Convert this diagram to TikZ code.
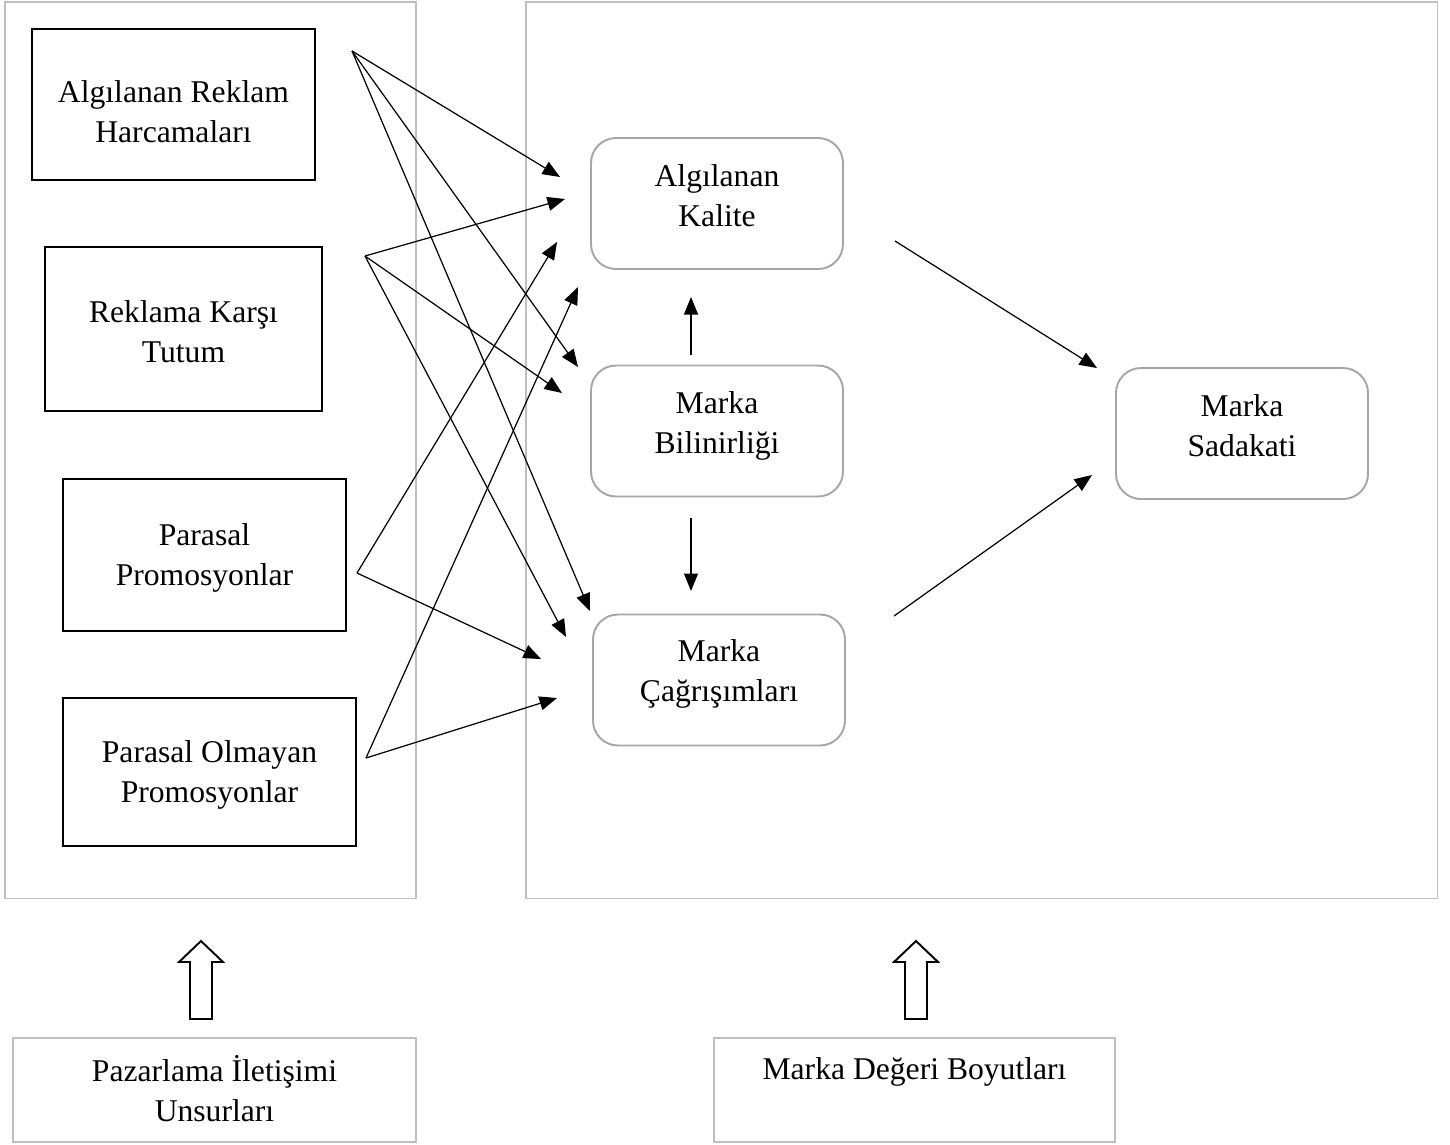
\documentclass[tikz,border=0pt]{standalone}
\usepackage{fontspec}
\setmainfont{Liberation Serif}
\usetikzlibrary{arrows.meta}
\definecolor{framegray}{RGB}{191,191,191}
\definecolor{boxgray}{RGB}{166,166,166}
\tikzset{
  framebox/.style={draw=framegray, line width=0.6pt, inner sep=0pt, outer sep=0pt},
  leftbox/.style={draw=black, line width=1.1pt, inner sep=0pt, outer sep=0pt},
  dimbox/.style={draw=boxgray, line width=1.1pt, rounded corners=0.5cm, inner sep=0pt, outer sep=0pt,
    minimum width=5.04cm, minimum height=2.62cm},
  txt/.style={align=center, inner sep=0pt, font=\fontsize{18}{22.8}\selectfont},
  arr/.style={-{Triangle[length=0.35cm, width=0.28cm]}, line width=0.7pt},
  hollow/.style={draw=black, line width=1.1pt, line join=miter}
}
\begin{document}
\begin{tikzpicture}[x=0.2mm, y=-0.2mm]
  \useasboundingbox (0,0) rectangle (1450,1144);
  % outer frames
  \node[framebox, minimum width=8.22cm, minimum height=17.92cm] (leftframe) at (210.5,450) {};
  \node[framebox, minimum width=18.22cm, minimum height=17.92cm] (rightframe) at (981.5,450) {};

  % communication elements
  \node[leftbox, minimum width=5.66cm, minimum height=3.02cm] (reklam) at (173.5,104.5) {};
  \node[txt] (reklam-t) at (173.5,112) {Algılanan Reklam\\Harcamaları};
  \node[leftbox, minimum width=5.54cm, minimum height=3.28cm] (tutum) at (183.5,329) {};
  \node[txt] (tutum-t) at (183.5,331.5) {Reklama Karşı\\Tutum};
  \node[leftbox, minimum width=5.66cm, minimum height=3.04cm] (parasal) at (204.5,555) {};
  \node[txt] (parasal-t) at (204.5,558) {Parasal\\Promosyonlar};
  \node[leftbox, minimum width=5.86cm, minimum height=2.96cm] (olmayan) at (209.5,772) {};
  \node[txt] (olmayan-t) at (209.5,775) {Parasal Olmayan\\Promosyonlar};

  % brand equity dimensions
  \node[dimbox] (kalite) at (717,203.5) {};
  \node[txt] (kalite-t) at (717,195.5) {Algılanan\\Kalite};
  \node[dimbox] (bilinirlik) at (717,431) {};
  \node[txt] (bilinirlik-t) at (717,426) {Marka\\Bilinirliği};
  \node[dimbox] (cagrisim) at (719,680) {};
  \node[txt] (cagrisim-t) at (719,674) {Marka\\Çağrışımları};
  \node[dimbox] (sadakat) at (1242,433.5) {};
  \node[txt] (sadakat-t) at (1242,426) {Marka\\Sadakati};

  % bottom captions
  \node[framebox, line width=1.1pt, minimum width=8.06cm, minimum height=2.08cm] (pazarlama) at (214.5,1090) {};
  \node[txt] (pazarlama-t) at (214.5,1089) {Pazarlama İletişimi\\Unsurları};
  \node[framebox, line width=1.1pt, minimum width=8.02cm, minimum height=2.08cm] (deger) at (914.5,1090) {};
  \node[txt] (deger-t) at (914.5,1072) {Marka Değeri Boyutları};

  % start and end points of the links
  \coordinate (s1) at (352,51);
  \coordinate (s2) at (365,256);
  \coordinate (s3) at (357,573);
  \coordinate (s4) at (366,758);
  \coordinate (k1) at (560,177);
  \coordinate (k2) at (565,199);
  \coordinate (k3) at (557,242);
  \coordinate (k4) at (578,287);
  \coordinate (b1) at (578,367);
  \coordinate (b2) at (562,393);
  \coordinate (c1) at (590,611);
  \coordinate (c2) at (566,637);
  \coordinate (c3) at (541,659);
  \coordinate (c4) at (557,698);

  \draw[arr] (s1) -- (k1);
  \draw[arr] (s1) -- (b1);
  \draw[arr] (s1) -- (c1);
  \draw[arr] (s2) -- (k2);
  \draw[arr] (s2) -- (b2);
  \draw[arr] (s2) -- (c2);
  \draw[arr] (s3) -- (k3);
  \draw[arr] (s3) -- (c3);
  \draw[arr] (s4) -- (k4);
  \draw[arr] (s4) -- (c4);

  % links between the dimensions
  \coordinate (up-a) at (691,355);
  \coordinate (up-b) at (691,297);
  \coordinate (dn-a) at (691,518);
  \coordinate (dn-b) at (691,591);
  \draw[arr] (up-a) -- (up-b);
  \draw[arr] (dn-a) -- (dn-b);
  \coordinate (q1) at (895,241);
  \coordinate (q2) at (1097,368);
  \coordinate (q3) at (894,616);
  \coordinate (q4) at (1092,475);
  \draw[arr] (q1) -- (q2);
  \draw[arr] (q3) -- (q4);

  % hollow arrows
  \foreach \xc in {201,916}
    \draw[hollow] (\xc,941) -- ++(22,21) -- ++(-11,0) -- ++(0,57) -- ++(-22,0)
      -- ++(0,-57) -- ++(-11,0) -- cycle;
\end{tikzpicture}
\end{document}
